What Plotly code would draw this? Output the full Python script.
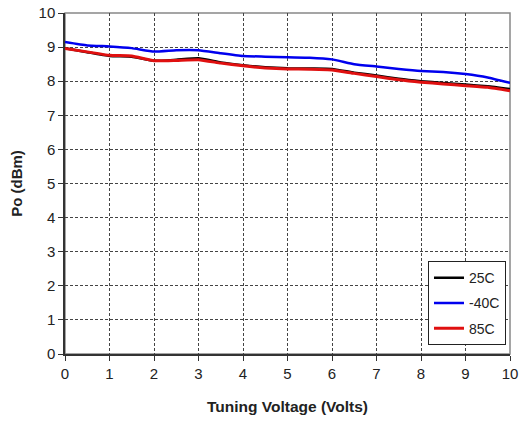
import plotly.graph_objects as go

volts = [0, 0.5, 1, 1.5, 2, 2.5, 3, 3.5, 4, 4.5, 5, 5.5, 6, 6.5, 7, 7.5, 8, 8.5, 9, 9.5, 10]
po_25c = [8.97, 8.85, 8.74, 8.72, 8.60, 8.63, 8.67, 8.55, 8.47, 8.41, 8.38, 8.37, 8.36, 8.25, 8.17, 8.07, 8.00, 7.95, 7.90, 7.85, 7.77]
po_m40c = [9.15, 9.05, 9.02, 8.97, 8.87, 8.91, 8.91, 8.82, 8.74, 8.72, 8.70, 8.69, 8.64, 8.50, 8.43, 8.36, 8.30, 8.27, 8.21, 8.11, 7.95]
po_85c = [8.96, 8.86, 8.76, 8.74, 8.60, 8.61, 8.63, 8.53, 8.45, 8.39, 8.36, 8.35, 8.33, 8.23, 8.14, 8.04, 7.97, 7.92, 7.87, 7.82, 7.72]
series_names = ["25C", "-40C", "85C"]
series_colors = ["#000000", "#0000ee", "#e01010"]

FONT = "Liberation Sans, Arial"

fig = go.Figure()
for name, ys, col, w in zip(series_names, [po_25c, po_m40c, po_85c], series_colors, [2.5, 2.5, 3]):
    fig.add_trace(go.Scatter(x=volts, y=ys, mode="lines", name=name, legendgroup=name,
                             line=dict(color=col, width=w, shape="spline", smoothing=0.4)))

axis_common = dict(
    showgrid=True, gridcolor="#444", griddash="3px,2px", gridwidth=1,
    showline=True, linecolor="#333", linewidth=1.5,
    ticks="outside", ticklen=5, tickcolor="#333", tickwidth=1,
    zeroline=False, tickfont=dict(family=FONT, size=15, color="#222"),
    dtick=1, automargin=False,
)
fig.update_xaxes(range=[0, 10], title=dict(text="<b>Tuning Voltage (Volts)</b>", font=dict(family=FONT, size=15.5, color="#222"), standoff=20), **axis_common)
fig.update_yaxes(range=[0, 10], title=dict(text="<b>Po (dBm)</b>", font=dict(family=FONT, size=15, color="#222"), standoff=12), **axis_common)

fig.add_shape(type="rect", xref="paper", yref="paper", x0=0, y0=0, x1=1, y1=1,
              line=dict(color="#888", width=1.5), layer="below")

fig.update_layout(
    width=521, height=421,
    margin=dict(l=65, r=11, t=13, b=67),
    plot_bgcolor="white", paper_bgcolor="white",
    font=dict(family=FONT, size=14, color="#222"),
    legend=dict(x=0.991, y=0.026, xanchor="right", yanchor="bottom",
                bgcolor="white", bordercolor="#222", borderwidth=1,
                tracegroupgap=4, font=dict(size=14)),
)

fig.write_html("out.html")
